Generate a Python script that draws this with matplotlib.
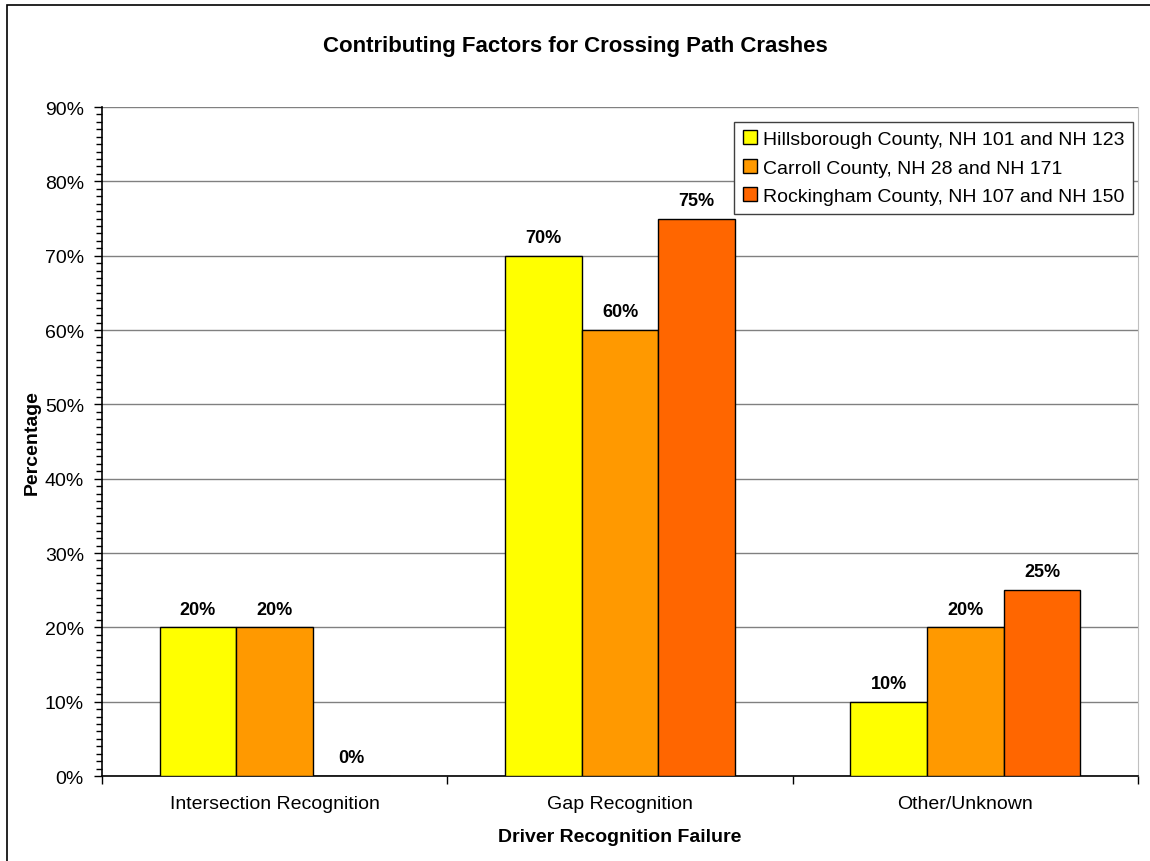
import matplotlib
matplotlib.use("Agg")
import matplotlib.pyplot as plt
import numpy as np
from matplotlib.ticker import MultipleLocator, PercentFormatter, FixedLocator
from matplotlib.patches import Rectangle

plt.rcParams['font.family'] = ['Liberation Sans', 'DejaVu Sans']

categories = ['Intersection Recognition', 'Gap Recognition', 'Other/Unknown']
series_names = ['Hillsborough County, NH 101 and NH 123',
                'Carroll County, NH 28 and NH 171',
                'Rockingham County, NH 107 and NH 150']
hillsborough = [20, 70, 10]
carroll = [20, 60, 20]
rockingham = [0, 75, 25]
colors = ['#FFFF00', '#FF9900', '#FF6600']

fig = plt.figure(figsize=(11.5, 8.62), dpi=100)
ax = fig.add_axes([0.0887, 0.0986, 0.9009, 0.7761])

# outer chart border
fig.patches.append(Rectangle((0.006, -0.02), 1.1, 1.013, transform=fig.transFigure,
                             fill=False, edgecolor='black', linewidth=1.2))

x = np.arange(len(categories))
width = 1 / 4.5
for i, (vals, name, col) in enumerate(zip([hillsborough, carroll, rockingham], series_names, colors)):
    pos = x + (i - 1) * width
    ax.bar(pos, vals, width, color=col, edgecolor='black', linewidth=1, label=name, zorder=3)
    for p, v in zip(pos, vals):
        ax.annotate(f'{v}%', (p, v), xytext=(0, 7), textcoords='offset points',
                    ha='center', va='bottom', fontsize=13, fontweight='bold', zorder=4)

ax.set_xlim(-0.5, 2.5)
ax.set_ylim(0, 90)
ax.yaxis.set_major_locator(MultipleLocator(10))
ax.yaxis.set_minor_locator(MultipleLocator(1))
ax.yaxis.set_major_formatter(PercentFormatter(decimals=0))
ax.grid(axis='y', color='#808080', linewidth=1, zorder=0)

ax.set_xticks(x)
ax.set_xticklabels(categories)
ax.xaxis.set_minor_locator(FixedLocator([-0.5, 0.5, 1.5, 2.5]))
ax.tick_params(axis='x', which='major', length=0, pad=14, labelsize=14)
ax.tick_params(axis='x', which='minor', length=6, width=1, direction='out')
ax.tick_params(axis='y', which='major', length=6, width=1, labelsize=14, pad=7)
ax.tick_params(axis='y', which='minor', length=4, width=1)

for s in ['left', 'bottom']:
    ax.spines[s].set_color('black')
    ax.spines[s].set_linewidth(1.2)
ax.spines['top'].set_visible(False)
ax.spines['right'].set_color('#c0c0c0')

ax.set_xlabel('Driver Recognition Failure', fontsize=14, fontweight='bold', labelpad=11)
ax.set_ylabel('Percentage', fontsize=14, fontweight='bold', labelpad=3)
fig.text(0.5, 0.946, 'Contributing Factors for Crossing Path Crashes',
         ha='center', va='center', fontsize=16, fontweight='bold')

leg = ax.legend(loc='upper right', bbox_to_anchor=(0.995, 0.978), fontsize=14,
                fancybox=False, framealpha=1, edgecolor='#404040',
                handlelength=0.72, handleheight=0.72, handletextpad=0.3,
                labelspacing=0.55, borderpad=0.45, borderaxespad=0)
leg.get_frame().set_linewidth(1)
leg.set_zorder(5)

fig.savefig('out.png', dpi=100)
